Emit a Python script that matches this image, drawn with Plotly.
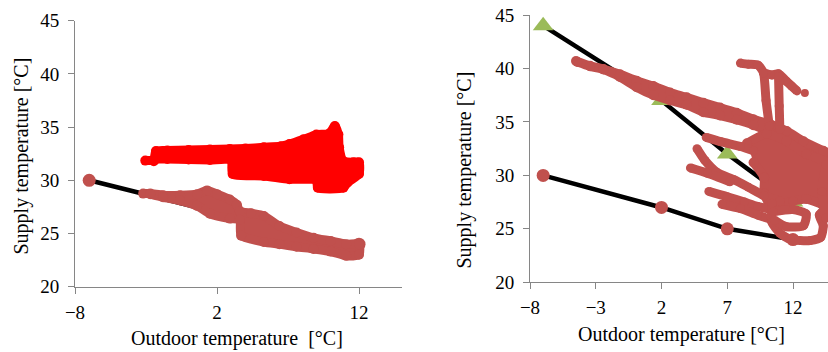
import plotly.graph_objects as go

# ---------------- data ----------------
# heating curves: outdoor temperature -> supply temperature
curve_t = [-7, 2, 7, 12]
low_supply = [30, 27, 25, 24]
high_supply = [44, 37, 32, 27.5]

# left panel: measured clouds, traced as envelopes (outline of the dense scatter)
left_red_x = [-3.05, -2.45, -2.3, -1.5, 0.0, 1.5, 2.9, 4.0, 5.3, 6.5, 7.1, 8.1, 9.0, 9.9,
              10.3, 10.55, 10.6, 10.9, 11.6, 12.0, 12.0, 11.2, 10.9, 9.1, 9.0, 7.1, 5.3,
              3.1, 3.0, 1.5, 0.0, -1.5, -2.3, -2.45]
left_red_y = [31.85, 31.95, 32.75, 32.8, 32.85, 32.9, 32.95, 33.0, 33.1, 33.2, 33.4, 33.85,
              34.3, 34.4, 35.1, 34.3, 33.1, 31.8, 31.7, 31.7, 30.6, 29.8, 29.3, 29.3, 30.0,
              30.1, 30.4, 30.6, 31.9, 31.9, 31.95, 32.0, 32.0, 31.8]

left_brown_x = [-3.2, -2.7, -1.8, -0.6, 0.6, 1.3, 2.0, 2.9, 3.4, 3.6, 4.4, 5.3, 6.4, 7.6,
                8.8, 10.0, 11.1, 12.0, 12.0, 11.1, 10.0, 8.8, 7.6, 6.4, 5.3, 3.7, 3.6,
                2.9, 1.5, 0.6, -0.6, -1.8, -2.7]
left_brown_y = [28.75, 28.75, 28.6, 28.6, 28.7, 29.05, 28.7, 28.2, 27.7, 27.1, 26.9, 26.65,
                25.7, 25.1, 24.6, 24.3, 24.0, 24.0, 23.0, 22.9, 23.3, 23.55, 23.75, 24.0,
                24.2, 24.8, 26.3, 26.4, 26.85, 27.6, 28.1, 28.4, 28.7]

# right panel: measured trajectories
right_band_x = [-4.5, -3.44, -2.42, -1.16, 0.11, 1.38, 2.65, 3.91, 5.18, 6.45, 7.72, 8.98,
                10.25, 11.52, 12.79, 14.3, 15.0, 15.0, 12.8, 11.5, 10.25, 8.98, 7.72, 6.45,
                5.18, 3.91, 2.65, 1.38, 0.11, -1.16, -2.42, -3.44, -4.4]
right_band_y = [40.7, 40.25, 39.95, 39.45, 38.85, 38.35, 37.75, 37.3, 36.8, 36.35, 35.85,
                35.25, 34.8, 34.15, 33.2, 32.3, 31.9, 30.5, 32.0, 33.1, 34.0, 34.7, 35.2,
                35.6, 35.9, 36.6, 37.0, 37.5, 38.25, 39.2, 39.9, 40.2, 40.6]

right_core_x = [8.5, 10.0, 11.5, 13.0, 15.0, 15.0, 14.2, 13.0, 12.0, 11.0, 10.3, 9.8, 9.8, 9.0]
right_core_y = [33.0, 33.9, 33.2, 32.0, 30.9, 27.0, 27.3, 27.8, 27.6, 27.3, 27.2, 28.3, 29.8, 31.2]

right_strands_x = [
    [5.4, 6.5, 8.0, 9.0],
    [4.7, 5.3, 6.2, 7.5, 8.6, 9.8, 11.0],
    [4.2, 5.5, 7.2],
    [5.6, 7.0, 8.3, 9.3, 10.4],
    [6.6, 8.0, 9.3, 10.3],
    [10.4, 10.4, 11.0, 11.8, 13.3, 14.1, 14.3, 14.0, 14.8],
    [10.5, 12.0, 13.0, 12.8, 11.5, 10.6],
    [14.5, 14.2, 14.5],
    [8.0, 8.6, 9.35, 9.75, 9.95, 10.2],
    [9.75, 10.4, 10.9, 11.5, 11.9, 12.3],
    [10.9, 10.95, 11.0],
]
right_strands_y = [
    [33.55, 33.15, 32.7, 32.3],
    [32.5, 31.4, 30.3, 29.6, 28.9, 28.1, 27.6],
    [30.7, 30.2, 29.4],
    [28.5, 28.0, 27.5, 27.1, 26.8],
    [27.3, 26.9, 26.3, 25.9],
    [27.4, 25.6, 24.6, 24.0, 23.9, 24.2, 25.3, 26.3, 27.2],
    [26.6, 26.8, 26.4, 25.3, 25.2, 25.8],
    [31.0, 28.5, 26.0],
    [40.5, 40.4, 40.3, 39.6, 37.0, 34.6],
    [39.6, 39.4, 39.5, 38.8, 38.35, 37.9],
    [39.2, 36.5, 34.3],
]
right_dot_x = [12.9]
right_dot_y = [37.7]

# ---------------- style ----------------
BROWN = "#C0504D"
RED = "#FF0000"
GREEN = "#9BBB59"
GRAY = "#868686"
FONT = "Liberation Serif, Times New Roman, DejaVu Serif, serif"

W, H = 828, 352


def px(x):
    return x / W


def py(y):
    return (H - y) / H


fig = go.Figure()


def blob(xs, ys, col, xa, ya):
    return go.Scatter(x=xs, y=ys, xaxis=xa, yaxis=ya, mode="lines+markers", fill="toself",
                      fillcolor=col, line=dict(color=col, width=9, shape="spline", smoothing=0.6),
                      marker=dict(color=col, size=10), hoverinfo="skip")


# left panel
fig.add_trace(go.Scatter(x=curve_t, y=low_supply, xaxis="x", yaxis="y", mode="lines+markers",
                         line=dict(color="black", width=4.5),
                         marker=dict(color=BROWN, size=13), hoverinfo="skip"))
fig.add_trace(blob(left_red_x, left_red_y, RED, "x", "y"))
fig.add_trace(blob(left_brown_x, left_brown_y, BROWN, "x", "y"))

# right panel
fig.add_trace(go.Scatter(x=curve_t, y=high_supply, xaxis="x2", yaxis="y2", mode="lines+markers",
                         line=dict(color="black", width=4.5),
                         marker=dict(color=GREEN, size=18, symbol="triangle-up"), hoverinfo="skip"))
fig.add_trace(go.Scatter(x=curve_t, y=low_supply, xaxis="x2", yaxis="y2", mode="lines+markers",
                         line=dict(color="black", width=4.5),
                         marker=dict(color=BROWN, size=13), hoverinfo="skip"))
fig.add_trace(blob(right_band_x, right_band_y, BROWN, "x2", "y2"))
fig.add_trace(blob(right_core_x, right_core_y, BROWN, "x2", "y2"))
for xs, ys in zip(right_strands_x, right_strands_y):
    fig.add_trace(go.Scatter(x=xs, y=ys, xaxis="x2", yaxis="y2", mode="lines+markers",
                             line=dict(color=BROWN, width=9, shape="spline", smoothing=0.6),
                             marker=dict(color=BROWN, size=9), hoverinfo="skip"))
fig.add_trace(go.Scatter(x=right_dot_x, y=right_dot_y, xaxis="x2", yaxis="y2", mode="markers",
                         marker=dict(color=BROWN, size=8), hoverinfo="skip"))

axis_common = dict(showline=True, linecolor=GRAY, linewidth=1, ticks="outside", ticklen=6,
                   tickcolor=GRAY, tickwidth=1, showgrid=False, zeroline=False, automargin=False,
                   ticklabeloverflow="allow",
                   tickfont=dict(family=FONT, size=19, color="black"))

fig.update_layout(
    width=W, height=H, autosize=False, showlegend=False,
    margin=dict(l=0, r=0, t=0, b=0, pad=0, autoexpand=False),
    paper_bgcolor="white", plot_bgcolor="white",
    xaxis=dict(domain=[px(75), px(401.6)], range=[-8, 15], tick0=-8, dtick=10, anchor="y",
               ticklabelstandoff=2, **axis_common),
    yaxis=dict(domain=[py(286.7), py(20.7)], range=[20, 45], dtick=5, anchor="x",
               ticklabelstandoff=5, **axis_common),
    xaxis2=dict(domain=[px(530), px(828)], range=[-8, 14.66], tick0=-8, dtick=5, anchor="y2",
                ticklabelstandoff=2, **axis_common),
    yaxis2=dict(domain=[py(282.3), py(15)], range=[20, 45], dtick=5, anchor="x2",
                ticklabelstandoff=5, **axis_common),
)

title_font = dict(family=FONT, size=20, color="black")
fig.add_annotation(text="Outdoor temperature  [°C]", xref="paper", yref="paper",
                   x=px(237.4), y=py(338), xanchor="center", yanchor="middle",
                   showarrow=False, font=title_font)
fig.add_annotation(text="Outdoor temperature [°C]", xref="paper", yref="paper",
                   x=px(681), y=py(334.5), xanchor="center", yanchor="middle",
                   showarrow=False, font=title_font)
fig.add_annotation(text="Supply temperature [°C]", xref="paper", yref="paper",
                   x=px(21), y=py(156.5), xanchor="center", yanchor="middle",
                   textangle=-90, showarrow=False, font=title_font)
fig.add_annotation(text="Supply temperature [°C]", xref="paper", yref="paper",
                   x=px(463.5), y=py(170), xanchor="center", yanchor="middle",
                   textangle=-90, showarrow=False, font=title_font)

# remove the default page margin so the 828x352 figure fills the window exactly
fig.write_html("out.html", config={"displayModeBar": False},
               post_script="document.body.style.margin='0px';")
